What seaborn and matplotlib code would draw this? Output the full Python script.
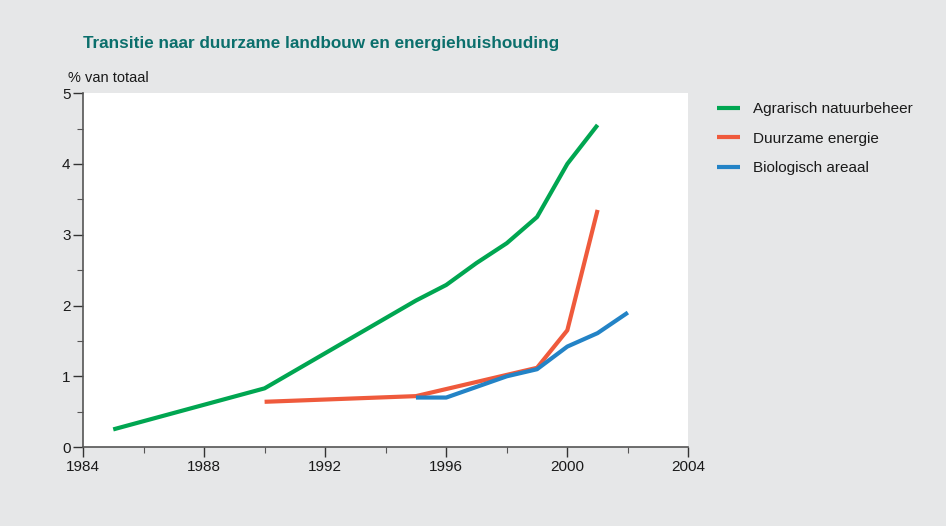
import numpy as np
import pandas as pd
import matplotlib
matplotlib.use("Agg")
import matplotlib.pyplot as plt
from matplotlib.ticker import MultipleLocator
import seaborn as sns

# data
years_natuur = [1985, 1990, 1995, 1996, 1997, 1998, 1999, 2000, 2001]
natuur = [0.25, 0.83, 2.07, 2.29, 2.6, 2.88, 3.25, 4.0, 4.55]

years_energie = [1990, 1995, 1996, 1997, 1998, 1999, 2000, 2001]
energie = [0.64, 0.72, 0.82, 0.92, 1.02, 1.12, 1.65, 3.35]

years_bio = [1995, 1996, 1997, 1998, 1999, 2000, 2001, 2002]
bio = [0.70, 0.70, 0.85, 1.0, 1.10, 1.42, 1.61, 1.90]

series_names = ["Agrarisch natuurbeheer", "Duurzame energie", "Biologisch areaal"]
colors = ["#00a651", "#ef5a3c", "#2383c6"]

df = pd.concat([
    pd.DataFrame({"jaar": years_natuur, "waarde": natuur, "reeks": series_names[0]}),
    pd.DataFrame({"jaar": years_energie, "waarde": energie, "reeks": series_names[1]}),
    pd.DataFrame({"jaar": years_bio, "waarde": bio, "reeks": series_names[2]}),
])

sns.set_theme(style="white")
plt.rcParams["font.family"] = ["Liberation Sans", "DejaVu Sans"]

bg = "#e6e7e8"
fig = plt.figure(figsize=(9.46, 5.26), dpi=100, facecolor=bg)
ax = fig.add_axes([0.0877, 0.150, 0.640, 0.673])
ax.set_facecolor("white")

sns.lineplot(data=df, x="jaar", y="waarde", hue="reeks", hue_order=series_names,
             palette=colors, linewidth=3.0, ax=ax, estimator=None, sort=True)
for ln in ax.lines:
    ln.set_solid_capstyle("butt")

ax.set_xlim(1984, 2004)
ax.set_ylim(0, 5)
ax.xaxis.set_major_locator(MultipleLocator(4))
ax.xaxis.set_minor_locator(MultipleLocator(2))
ax.yaxis.set_major_locator(MultipleLocator(1))
ax.yaxis.set_minor_locator(MultipleLocator(0.5))
ax.tick_params(axis="both", which="major", direction="out", length=7, width=1.0,
               color="#333333", labelsize=11, labelcolor="#1a1a1a", pad=2,
               bottom=True, left=True)
ax.tick_params(axis="both", which="minor", direction="out", length=4, width=0.8,
               color="#555555", bottom=True, left=True)
ax.set_xlabel("")
ax.set_ylabel("")

for side in ["top", "right"]:
    ax.spines[side].set_visible(False)
for side in ["left", "bottom"]:
    ax.spines[side].set_color("#555555")
    ax.spines[side].set_linewidth(1.2)

leg = ax.legend(loc="upper left", bbox_to_anchor=(1.048, 0.974), frameon=False,
                borderaxespad=0, borderpad=0,
                fontsize=11, handlelength=1.5, handletextpad=0.8, labelspacing=1.0)
for h in leg.get_lines():
    h.set_linewidth(3.0)
for t in leg.get_texts():
    t.set_color("#1a1a1a")

fig.text(0.0877, 0.909, "Transitie naar duurzame landbouw en energiehuishouding",
         fontsize=12.3, fontweight="bold", color="#0b6f6c", ha="left", va="baseline")
fig.text(0.072, 0.845, "% van totaal", fontsize=10.5, color="#1a1a1a",
         ha="left", va="baseline")

fig.savefig("out.png", dpi=100, facecolor=bg)
